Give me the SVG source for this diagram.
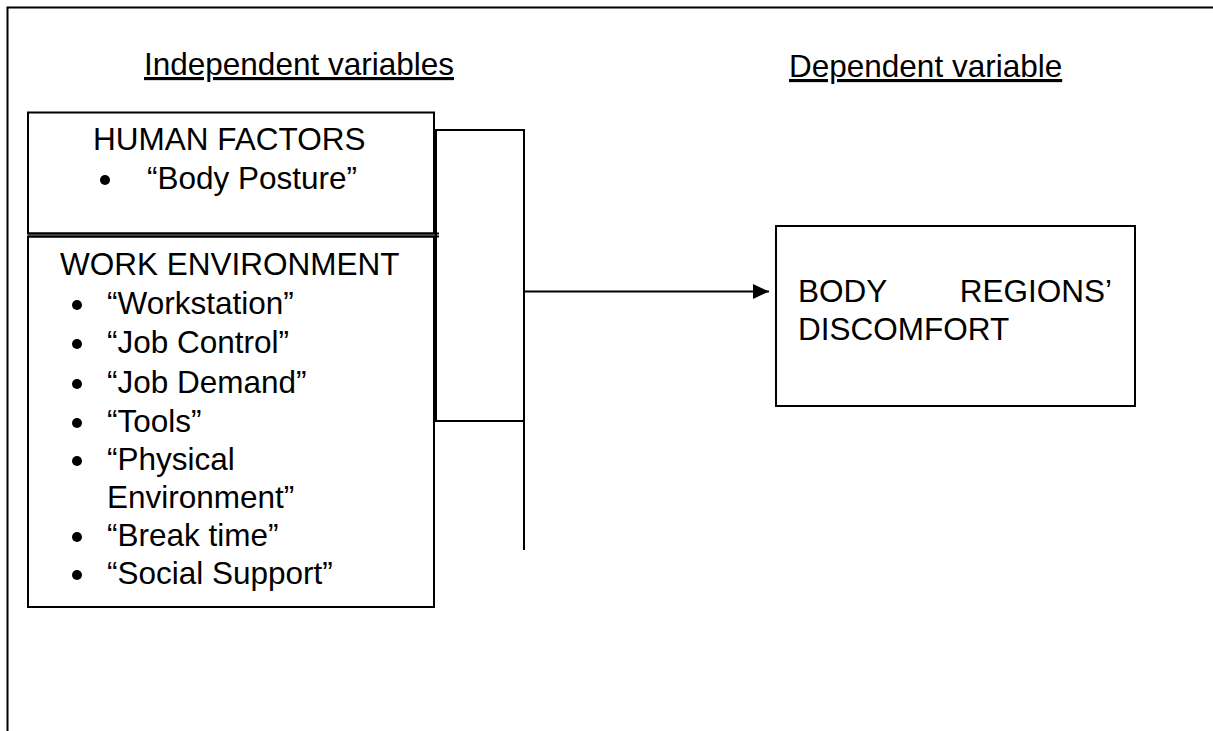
<svg xmlns="http://www.w3.org/2000/svg" width="1213" height="731" viewBox="0 0 1213 731">
<defs>
<style>
text{font-family:"Liberation Sans",Arial,sans-serif;font-size:31.5px;fill:#000}
.u{text-decoration:underline}
.box{fill:#fff;stroke:#000;stroke-width:2}
.ln{fill:none;stroke:#000;stroke-width:2}
</style>
<marker id="ah" markerWidth="17" markerHeight="16" refX="16" refY="8" orient="auto" markerUnits="userSpaceOnUse">
<path d="M0,0.5 L16,8 L0,15.5 Z" fill="#000"/>
</marker>
</defs>
<rect width="1213" height="731" fill="#fff"/>
<g id="frame">
<path class="ln" d="M7.5,731 V7.5 H1213"/>
</g>
<g id="headers">
<text class="u" x="144" y="75">Independent variables</text>
<text class="u" x="789" y="77">Dependent variable</text>
</g>
<g id="human-factors">
<rect class="box" x="28" y="112.5" width="406" height="121"/>
<text x="93" y="150">HUMAN FACTORS</text>
<circle cx="105" cy="180" r="5"/>
<text x="147" y="189">“Body Posture”</text>
</g>
<g id="work-environment">
<rect class="box" x="28" y="236.5" width="406" height="370.5"/>
<line class="ln" x1="28" y1="233.5" x2="439" y2="233.5"/>
<line class="ln" x1="28" y1="236.5" x2="439" y2="236.5"/>
<text x="60" y="275">WORK ENVIRONMENT</text>
<circle cx="77" cy="305" r="5"/><text x="107" y="314">“Workstation”</text>
<circle cx="77" cy="344" r="5"/><text x="107" y="353">“Job Control”</text>
<circle cx="77" cy="384" r="5"/><text x="107" y="393">“Job Demand”</text>
<circle cx="77" cy="423" r="5"/><text x="107" y="432">“Tools”</text>
<circle cx="77" cy="461" r="5"/><text x="107" y="470">“Physical</text>
<text x="107" y="508">Environment”</text>
<circle cx="77" cy="537" r="5"/><text x="107" y="546">“Break time”</text>
<circle cx="77" cy="575" r="5"/><text x="107" y="584">“Social Support”</text>
</g>
<g id="body-regions">
<rect class="box" x="776" y="226" width="359" height="180"/>
<text x="798" y="302">BODY</text>
<text x="1112" y="302" text-anchor="end">REGIONS’</text>
<text x="798" y="340">DISCOMFORT</text>
</g>
<g id="connectors">
<path class="ln" d="M436,130 H524 V550"/>
<path class="ln" d="M436,129 V421 H524"/>
<line class="ln" x1="524" y1="291.5" x2="769" y2="291.5" marker-end="url(#ah)"/>
</g>
</svg>
